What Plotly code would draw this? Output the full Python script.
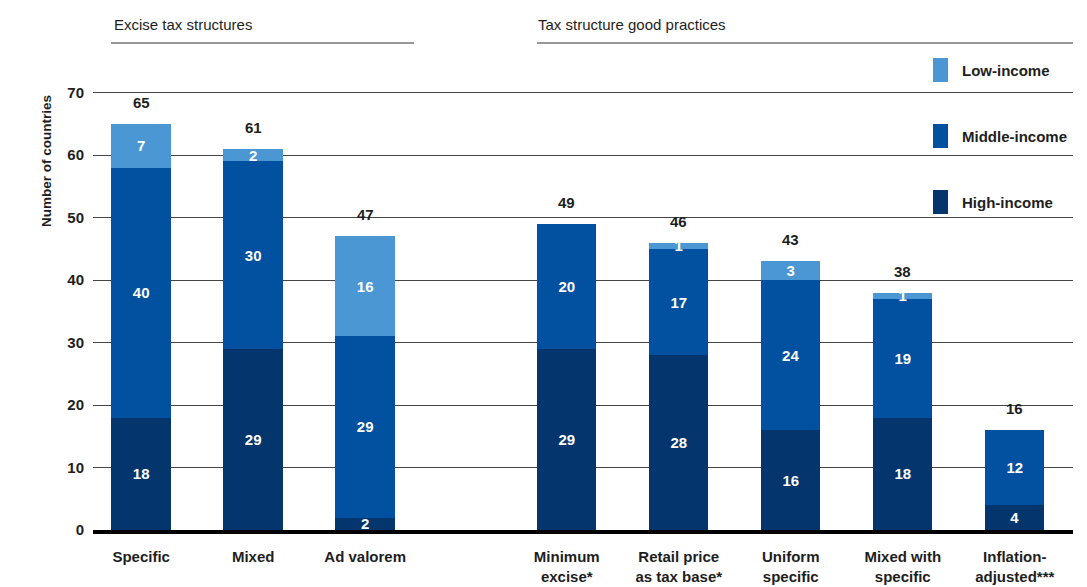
import plotly.graph_objects as go

# ---- data ----
categories = ["Specific", "Mixed", "Ad valorem", "Minimum<br>excise*",
              "Retail price<br>as tax base*", "Uniform<br>specific",
              "Mixed with<br>specific", "Inflation-<br>adjusted***"]
high_income = [18, 29, 2, 29, 28, 16, 18, 4]
middle_income = [40, 30, 29, 20, 17, 24, 19, 12]
low_income = [7, 2, 16, 0, 1, 3, 1, 0]
totals = [65, 61, 47, 49, 46, 43, 38, 16]
y_ticks = [0, 10, 20, 30, 40, 50, 60, 70]

# ---- layout helpers ----
slot_x = [0, 1, 2, 3.8, 4.8, 5.8, 6.8, 7.8]
FONT = "Liberation Sans, Arial, sans-serif"
C_LOW = "#4a97d3"
C_MID = "#0151a0"
C_HIGH = "#04356d"
TXT = "#1e1e1e"
W, H = 1087, 587
L, R, T, B = 93, 14, 89, 57
PW, PH = W - L - R, H - T - B
Y_TOP = 70.6


def px(x):
    return (x - L) / PW


def py(y):
    return (H - B - y) / PH


def lbl(vals):
    return [str(v) if v else "" for v in vals]


fig = go.Figure()
for name, vals, col in [("High-income", high_income, C_HIGH),
                        ("Middle-income", middle_income, C_MID),
                        ("Low-income", low_income, C_LOW)]:
    fig.add_trace(go.Bar(
        x=slot_x, y=vals, name=name, marker=dict(color=col, line=dict(width=0)),
        width=0.53, text=lbl(vals), textposition="inside", textangle=0,
        insidetextanchor="middle",
        textfont=dict(family=FONT, size=15, color="white", weight="bold"),
        showlegend=False, hoverinfo="skip"))

annotations = []
for xv, tv in zip(slot_x, totals):
    annotations.append(dict(x=xv, y=tv, xref="x", yref="y", text=str(tv),
                            showarrow=False, yanchor="bottom", yshift=11,
                            font=dict(family=FONT, size=15, color=TXT,
                                      weight="bold")))

# group headers
annotations.append(dict(x=px(112), y=py(25), xref="paper", yref="paper",
                        text="Excise tax structures", showarrow=False,
                        xanchor="left", yanchor="middle",
                        font=dict(family=FONT, size=15, color=TXT)))
annotations.append(dict(x=px(536), y=py(25), xref="paper", yref="paper",
                        text="Tax structure good practices", showarrow=False,
                        xanchor="left", yanchor="middle",
                        font=dict(family=FONT, size=15, color=TXT)))
# y title
annotations.append(dict(x=px(46), y=py(161), xref="paper", yref="paper",
                        text="Number of countries", showarrow=False,
                        textangle=-90, xanchor="center", yanchor="middle",
                        font=dict(family=FONT, size=13.5, color=TXT,
                                  weight="bold")))

shapes = [
    dict(type="line", xref="paper", yref="paper", x0=px(111), x1=px(414),
         y0=py(43), y1=py(43), line=dict(color="#333", width=1)),
    dict(type="line", xref="paper", yref="paper", x0=px(537), x1=1,
         y0=py(43), y1=py(43), line=dict(color="#333", width=1)),
]

# manual legend
for name, col, yc in [("Low-income", C_LOW, 70), ("Middle-income", C_MID, 136),
                      ("High-income", C_HIGH, 202)]:
    shapes.append(dict(type="rect", xref="paper", yref="paper",
                       x0=px(933), x1=px(948), y0=py(yc - 12), y1=py(yc + 12),
                       fillcolor=col, line=dict(width=0)))
    annotations.append(dict(x=px(960), y=py(yc), xref="paper", yref="paper",
                            text=name, showarrow=False, xanchor="left",
                            yanchor="middle",
                            font=dict(family=FONT, size=15, color=TXT,
                                      weight="bold")))

fig.update_layout(
    width=W, height=H, barmode="stack",
    margin=dict(l=L, r=R, t=T, b=B, pad=0),
    paper_bgcolor="white", plot_bgcolor="white",
    font=dict(family=FONT, size=15, color=TXT),
    uniformtext=dict(minsize=15, mode="show"),
    xaxis=dict(range=[-0.43, 8.32], tickvals=slot_x, ticktext=categories,
               showgrid=False, zeroline=False, showline=True, linecolor="black",
               linewidth=4, ticks="", ticklabelstandoff=10, automargin=False,
               tickfont=dict(family=FONT, size=15, color=TXT, weight="bold")),
    yaxis=dict(range=[0, Y_TOP], tickvals=y_ticks, showgrid=True,
               gridcolor="#444", gridwidth=1, zeroline=False, showline=False,
               ticks="", ticklabelstandoff=8, automargin=False,
               tickfont=dict(family=FONT, size=15, color=TXT, weight="bold")),
    annotations=annotations, shapes=shapes,
)

fig.write_html("out.html", config={"displayModeBar": False},
               post_script="document.body.style.margin='0';"
                           "document.body.style.overflow='hidden';")
